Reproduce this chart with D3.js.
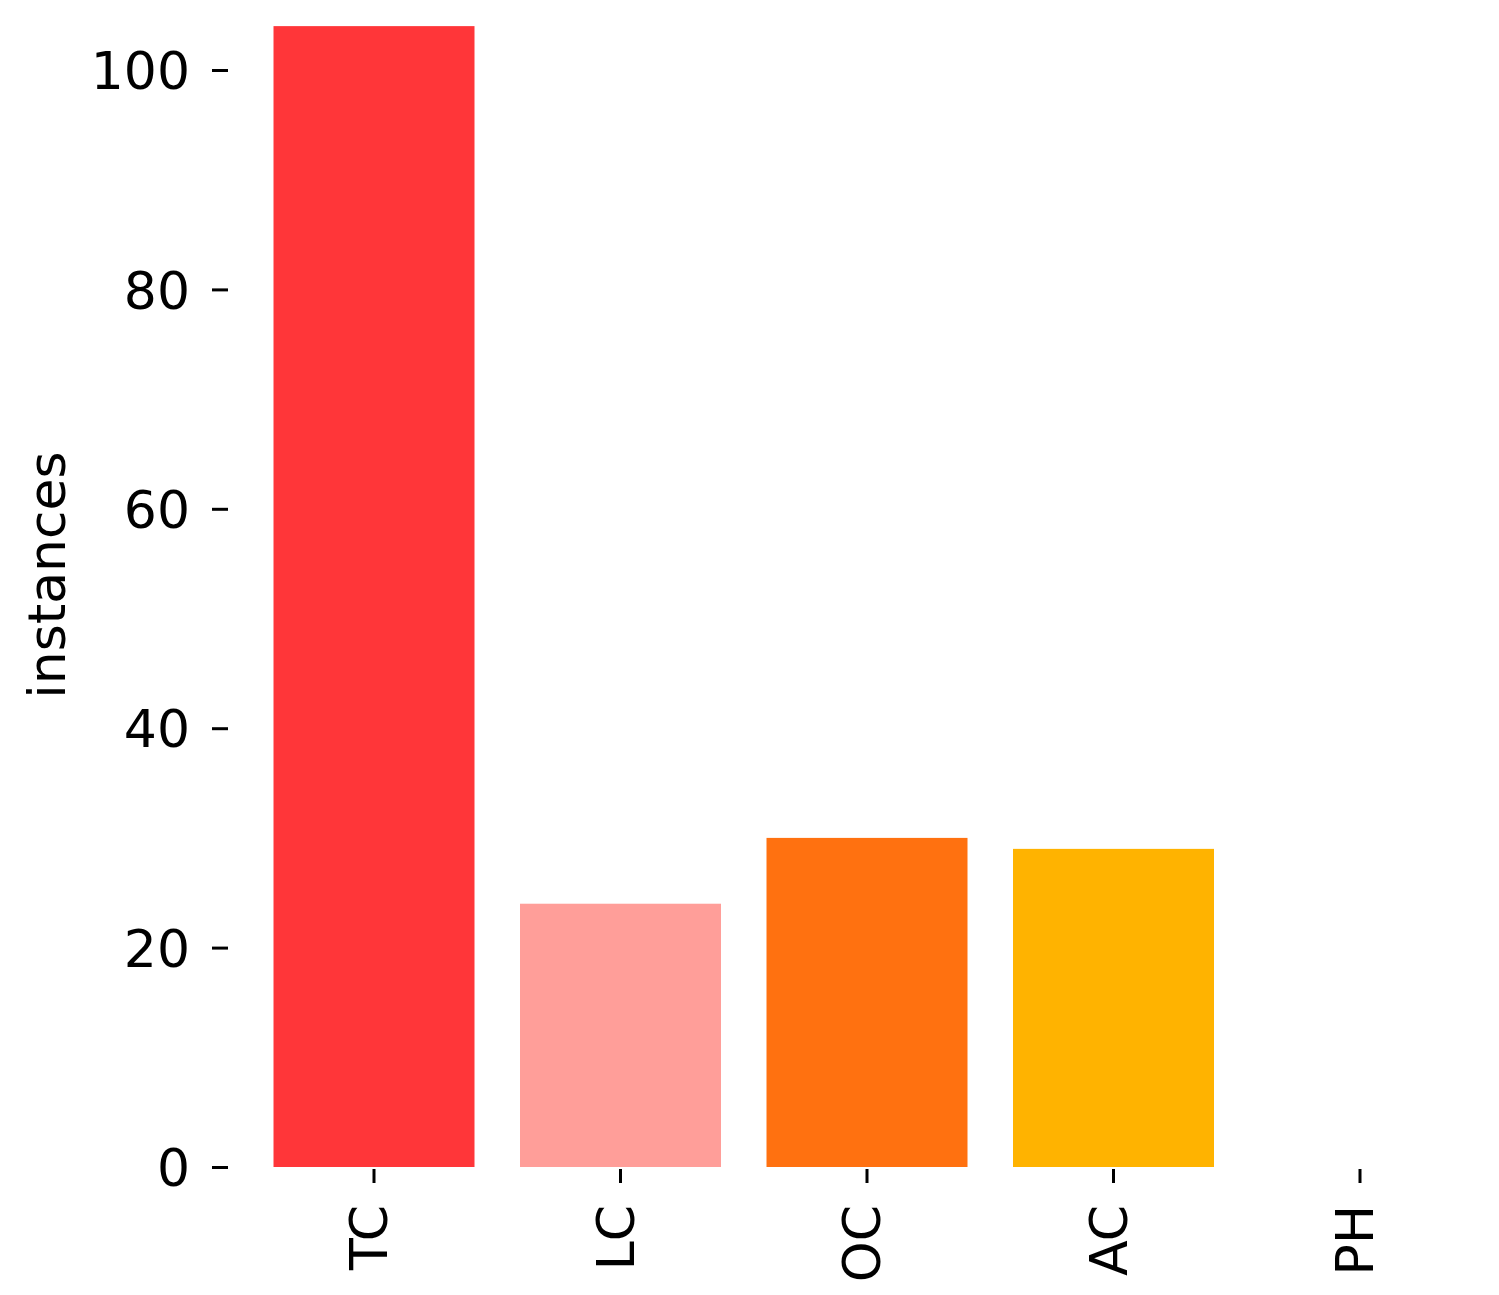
<!DOCTYPE html>
<html>
<head>
<meta charset="utf-8">
<script src="https://cdn.jsdelivr.net/npm/d3@7"></script>
<style>
  html, body { margin: 0; padding: 0; background: #fff; }
  svg { display: block; }
  text { font-family: "DejaVu Sans", sans-serif; fill: #000; }
</style>
</head>
<body>
<svg id="chart" width="1499" height="1295"></svg>
<script>
const categories = ["TC", "LC", "OC", "AC", "PH"];
const values = [104, 24, 30, 29, 0];
const colors = ["#ff3639", "#ff9e99", "#ff7110", "#ffb300", "#cccccc"];
const yTicks = [0, 20, 40, 60, 80, 100];
const yLabel = "instances";

const svg = d3.select("#chart");
const fontSize = 52;

const x = d3.scaleBand()
  .domain(categories)
  .range([374 - 246.5 / 2, 1360 + 246.5 / 2])
  .paddingInner(0.1846)
  .paddingOuter(0.0923);

const y = d3.scaleLinear().domain([0, 100]).range([1167, 70]);

// bars
svg.append("g").selectAll("rect")
  .data(categories.map((c, i) => ({ c, v: values[i], col: colors[i] })))
  .join("rect")
  .attr("x", d => x(d.c))
  .attr("width", x.bandwidth())
  .attr("y", d => y(d.v))
  .attr("height", d => y(0) - y(d.v))
  .attr("fill", d => d.col);

// y axis
const yAxis = d3.axisLeft(y).tickValues(yTicks).tickSize(16).tickPadding(22).tickFormat(d3.format("d"));
const gy = svg.append("g").attr("transform", "translate(228,0)").call(yAxis);
gy.select(".domain").remove();
gy.selectAll(".tick line").attr("stroke", "#000").attr("stroke-width", 3);
gy.selectAll(".tick text")
  .attr("font-size", fontSize)
  .attr("font-family", "DejaVu Sans, sans-serif")
  .attr("dy", "0.36em");

// x axis
const xAxis = d3.axisBottom(x).tickSize(14).tickPadding(0);
const gx = svg.append("g").attr("transform", "translate(0,1169)").call(xAxis);
gx.select(".domain").remove();
gx.selectAll(".tick line").attr("stroke", "#000").attr("stroke-width", 3);
gx.selectAll(".tick text")
  .attr("font-size", fontSize)
  .attr("font-family", "DejaVu Sans, sans-serif")
  .attr("transform", "rotate(-90)")
  .attr("text-anchor", "end")
  .attr("x", -36)
  .attr("y", 13)
  .attr("dy", null);

// y label
svg.append("text")
  .attr("transform", "translate(65,575) rotate(-90)")
  .attr("text-anchor", "middle")
  .attr("font-size", fontSize)
  .text(yLabel);
</script>
</body>
</html>
